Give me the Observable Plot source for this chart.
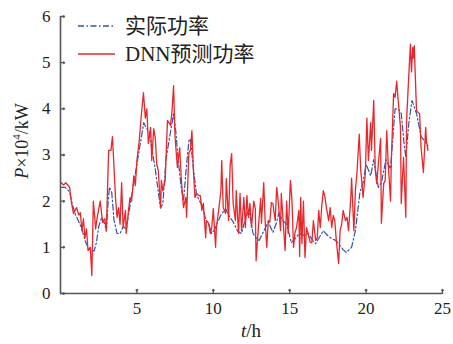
<!DOCTYPE html>
<html>
<head>
<meta charset="utf-8">
<script src="https://cdn.jsdelivr.net/npm/d3@7"></script>
<script src="https://cdn.jsdelivr.net/npm/@observablehq/plot@0.6"></script>
<style>
  html, body { margin: 0; padding: 0; background: #fff; }
  #wrap { position: relative; width: 453px; height: 344px; overflow: hidden;
          font-family: "Liberation Serif", "Times New Roman", "Noto Sans CJK SC", serif; color: #222; }
  .legend { position: absolute; left: 78px; top: 12px; font-size: 21px; line-height: 28px; }
  .legend .row { display: flex; align-items: center; height: 28px; }
  .legend svg { margin-right: 10px; }
  .legend .cjk { font-family: "Liberation Serif", "Noto Sans CJK SC", serif; }
  .xlab { position: absolute; left: 0; width: 502px; top: 320px; text-align: center; font-size: 19px; }
  .ylab { position: absolute; left: 22px; top: 141px; font-size: 18px; white-space: nowrap;
          transform: translate(-50%, -50%) rotate(-90deg); }
  .ylab sup { font-size: 11px; position: relative; top: -1px; }
</style>
</head>
<body>
<div id="wrap"></div>
<script>
// ---- data ----
const seriesNames = ["实际功率", "DNN预测功率"];
const xTicks = [5, 10, 15, 20, 25];
const yTicks = [0, 1, 2, 3, 4, 5, 6];

// actual power (blue dash-dot): time (h), value (×10^4 kW)
const blueT = [0, 0.3, 0.6, 0.8, 1.0, 1.2, 1.4, 1.6, 1.8, 2.0, 2.2, 2.35, 2.5, 2.7, 2.9, 3.0, 3.1, 3.2, 3.35, 3.5,
  3.7, 3.9, 4.1, 4.3, 4.5, 4.7, 4.9, 5.1, 5.3, 5.45, 5.6, 5.8, 6.0, 6.2, 6.4, 6.55, 6.7, 6.9, 7.1, 7.3,
  7.4, 7.55, 7.7, 7.9, 8.05, 8.2, 8.4, 8.5, 8.7, 8.9, 9.1, 9.3, 9.5, 9.7, 9.9, 10.1, 10.3, 10.5, 10.8, 11.0,
  11.3, 11.6, 11.85, 12.0, 12.3, 12.45, 12.6, 12.8, 13.0, 13.3, 13.6, 13.9, 14.1, 14.3, 14.5, 14.8, 15.0, 15.1, 15.4, 15.6,
  15.9, 16.2, 16.5, 16.7, 17.0, 17.2, 17.5, 17.7, 18.0, 18.2, 18.5, 18.7, 19.05, 19.3, 19.6, 19.8, 20.0, 20.3, 20.5, 20.8,
  21.0, 21.3, 21.6, 21.8, 21.9, 22.1, 22.3, 22.5, 22.6, 22.8, 23.0, 23.3, 23.6, 23.9, 24.05];
const blueV = [2.3, 2.3, 2.2, 1.9, 1.7, 1.55, 1.4, 1.15, 1.0, 0.95, 0.92, 1.1, 1.45, 1.65, 1.5, 1.35, 1.9, 2.3, 2.2, 1.6,
  1.3, 1.3, 1.45, 1.4, 1.8, 2.2, 2.6, 3.0, 3.4, 3.7, 3.6, 3.5, 3.1, 2.7, 2.2, 1.85, 1.95, 2.9, 3.3, 3.7,
  3.9, 3.5, 2.9, 2.3, 2.0, 2.6, 3.3, 3.35, 2.7, 2.15, 2.0, 1.9, 1.6, 1.5, 1.3, 1.4, 1.55, 1.7, 1.84, 1.7,
  1.55, 1.35, 1.3, 1.5, 1.8, 1.6, 1.3, 1.2, 1.15, 1.35, 1.55, 1.32, 1.5, 1.75, 1.6, 1.5, 1.25, 1.1, 1.2, 1.3,
  1.26, 1.3, 1.15, 1.08, 1.25, 1.36, 1.25, 1.2, 1.15, 1.08, 0.95, 0.89, 1.0, 1.36, 2.2, 2.4, 2.8, 2.55, 2.9, 2.3,
  2.4, 2.9, 2.7, 3.6, 4.0, 4.0, 3.9, 3.2, 2.95, 3.7, 4.18, 3.9, 3.4, 3.27, 3.2];

// DNN predicted power (red solid)
const redT = [0.05, 0.2, 0.35, 0.5, 0.6, 0.7, 0.85, 1.05, 1.2, 1.3, 1.4, 1.5, 1.6, 1.7, 1.8, 1.95, 2.05, 2.15, 2.3, 2.4,
  2.6, 2.75, 2.9, 3.0, 3.15, 3.3, 3.4, 3.6, 3.7, 3.8, 3.9, 4.0, 4.1, 4.25, 4.3, 4.45, 4.55, 4.65, 4.8, 4.9,
  5.0, 5.15, 5.3, 5.43, 5.55, 5.65, 5.75, 5.9, 5.97, 6.1, 6.2, 6.3, 6.4, 6.55, 6.6, 6.7, 6.85, 7.0, 7.2, 7.3,
  7.4, 7.5, 7.65, 7.8, 7.9, 8.05, 8.2, 8.25, 8.4, 8.5, 8.6, 8.7, 8.8, 8.9, 9.05, 9.15, 9.25, 9.35, 9.5, 9.55,
  9.7, 9.8, 9.9, 10.0, 10.15, 10.2, 10.35, 10.5, 10.55, 10.65, 10.8, 10.85, 11.0, 11.1, 11.2, 11.3, 11.45, 11.5, 11.65, 11.75,
  11.85, 12.0, 12.1, 12.2, 12.3, 12.4, 12.5, 12.65, 12.75, 12.8, 12.95, 13.1, 13.15, 13.3, 13.4, 13.5, 13.6, 13.7, 13.8, 13.9,
  14.05, 14.15, 14.25, 14.4, 14.45, 14.6, 14.7, 14.8, 14.9, 15.05, 15.15, 15.25, 15.35, 15.45, 15.6, 15.65, 15.72, 15.8, 15.9, 16.0,
  16.1, 16.2, 16.35, 16.45, 16.55, 16.7, 16.8, 16.9, 17.0, 17.1, 17.2, 17.3, 17.4, 17.55, 17.65, 17.75, 17.85, 17.95, 18.05, 18.2,
  18.3, 18.4, 18.5, 18.65, 18.75, 18.85, 19.0, 19.05, 19.2, 19.3, 19.4, 19.55, 19.65, 19.7, 19.8, 19.95, 20.05, 20.15, 20.3, 20.35,
  20.5, 20.6, 20.7, 20.8, 20.95, 21.0, 21.15, 21.25, 21.35, 21.45, 21.6, 21.65, 21.8, 21.9, 22.0, 22.1, 22.25, 22.3, 22.45, 22.6,
  22.65, 22.8, 22.9, 22.97, 23.05, 23.1, 23.15, 23.3, 23.4, 23.5, 23.6, 23.75, 23.9, 23.95, 24.05];
const redV = [2.4, 2.35, 2.4, 2.34, 2.3, 2.0, 1.73, 1.86, 1.7, 1.75, 1.36, 1.62, 1.2, 1.4, 0.93, 1.0, 0.39, 2.0, 1.4, 1.65,
  2.0, 1.54, 1.62, 1.36, 3.1, 3.1, 3.4, 2.08, 1.65, 1.86, 1.5, 2.4, 1.43, 1.8, 1.3, 1.8, 2.08, 2.0, 2.55, 2.34,
  2.88, 3.3, 3.9, 4.35, 3.8, 4.0, 3.25, 3.6, 2.88, 3.57, 3.38, 2.8, 2.66, 1.86, 2.45, 2.23, 2.45, 3.75, 3.64, 3.96,
  4.5, 3.38, 2.73, 3.16, 2.5, 1.86, 2.08, 1.65, 3.05, 3.1, 3.53, 2.66, 2.08, 2.17, 2.12, 2.12, 1.8, 1.95, 1.21, 1.58,
  1.52, 1.3, 1.43, 1.84, 1.0, 1.43, 1.8, 2.23, 2.88, 1.86, 1.73, 2.49, 1.58, 2.77, 3.03, 1.95, 1.58, 2.23, 1.3, 2.17,
  1.36, 2.08, 1.43, 2.12, 1.65, 1.95, 1.43, 2.0, 1.84, 0.71, 1.43, 2.06, 1.52, 2.4, 1.52, 1.0, 1.58, 1.55, 1.97, 1.95,
  1.58, 2.3, 2.0, 1.36, 2.17, 1.43, 0.93, 2.0, 1.3, 2.45, 2.0, 1.0, 1.32, 1.43, 1.8, 0.8, 2.08, 1.08, 2.0, 0.78,
  1.43, 1.3, 1.1, 1.1, 1.58, 1.15, 1.2, 1.8, 1.43, 1.9, 2.23, 2.1, 1.86, 1.58, 1.86, 1.43, 1.69, 1.58, 1.15, 0.65,
  1.36, 1.5, 1.8, 1.58, 1.65, 1.36, 2.08, 2.5, 1.36, 2.23, 2.6, 3.45, 2.66, 2.5, 2.08, 2.6, 3.8, 2.88, 3.7, 3.1,
  4.18, 2.66, 2.38, 2.8, 3.36, 1.52, 2.38, 2.45, 3.53, 2.8, 2.0, 2.88, 4.33, 4.25, 4.6, 4.18, 3.6, 1.95, 2.95, 1.65,
  3.75, 4.77, 5.4, 4.8, 5.33, 5.1, 5.37, 3.96, 3.92, 3.9, 3.16, 2.62, 3.6, 3.3, 3.1];

const colors = ["#2e55a8", "#e8262b"];

const blue = blueT.map((t, i) => ({t, v: blueV[i]}));
const red = redT.map((t, i) => ({t, v: redV[i]}));

const axisColor = "#555";
const chart = Plot.plot({
  width: 453, height: 344,
  marginLeft: 60, marginRight: 11, marginTop: 16, marginBottom: 51,
  x: {domain: [0, 25]},
  y: {domain: [0, 6]},
  style: {fontFamily: "'Liberation Serif', 'Times New Roman', serif", fontSize: "17px", color: "#222", background: "white", overflow: "visible"},
  marks: [
    Plot.line(blue, {x: "t", y: "v", stroke: colors[0], strokeWidth: 1.2, strokeDasharray: "6,2.5,1.5,2.5"}),
    Plot.line(red, {x: "t", y: "v", stroke: colors[1], strokeWidth: 1.3}),
    Plot.axisX(xTicks, {tickSize: 0, tickPadding: 8, label: null}),
    Plot.axisY(yTicks, {tickSize: 0, tickPadding: 10, label: null}),
    // inward tick marks
    Plot.vector(xTicks, {x: (d) => d, y: 0, length: 4, rotate: 0, anchor: "start", stroke: axisColor, strokeWidth: 1.3}),
    Plot.vector(yTicks, {x: 0, y: (d) => d, length: 4, rotate: 90, anchor: "start", stroke: axisColor, strokeWidth: 1.3}),
    Plot.ruleY([0], {stroke: axisColor, strokeWidth: 1.6}),
    Plot.ruleX([0], {stroke: axisColor, strokeWidth: 1.6})
  ]
});

const wrap = document.getElementById("wrap");
wrap.appendChild(chart);

// legend
const legend = document.createElement("div");
legend.className = "legend";
legend.innerHTML = seriesNames.map((name, i) => `
  <div class="row">
    <svg width="37" height="6"><line x1="0" y1="3" x2="37" y2="3" stroke="${colors[i]}" stroke-width="1.3" ${i === 0 ? 'stroke-dasharray="6,2.5,1.5,2.5"' : ''}/></svg>
    <span class="cjk">${name}</span>
  </div>`).join("");
wrap.appendChild(legend);

// axis labels
const xl = document.createElement("div");
xl.className = "xlab";
xl.innerHTML = "<i>t</i>/h";
wrap.appendChild(xl);
const yl = document.createElement("div");
yl.className = "ylab";
yl.innerHTML = "<i>P</i>×10<sup>4</sup>/kW";
wrap.appendChild(yl);
</script>
</body>
</html>
